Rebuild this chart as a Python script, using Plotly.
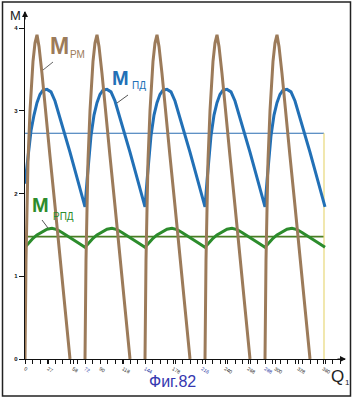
import plotly.graph_objects as go

# ---------------- data ----------------
PERIOD = 72.0          # degrees per cycle
N_PERIODS = 5

# M_PM (brown) - one cycle, x in degrees from cycle start
brown_x = [0, 1.2, 3.6, 6.0, 9.6, 12.0, 14.4, 16.8, 20.4, 24.0, 30.0, 36.0, 42.0, 48.0, 54.0]
brown_y = [0.0, 1.2, 2.4, 3.0, 3.6, 3.82, 3.92, 3.78, 3.45, 3.05, 2.45, 1.85, 1.22, 0.6, 0.0]

# M_ПД (blue) - one cycle
blue_x = [0, 2.4, 4.8, 7.2, 10.8, 14.4, 18.0, 21.6, 26.4, 31.2, 36.0, 42.0, 48.0, 54.0, 60.0, 66.0, 72.0]
blue_y = [1.84, 2.15, 2.45, 2.70, 2.95, 3.10, 3.20, 3.25, 3.26, 3.23, 3.12, 2.92, 2.72, 2.50, 2.28, 2.06, 1.84]
blue_first_y = [2.12, 2.36, 2.58, 2.76]   # start of the first cycle

# M_РПД (green) - one cycle
green_x = [0, 4.8, 9.6, 14.4, 20.4, 26.4, 32.4, 38.4, 44.4, 51.6, 58.8, 66.0, 72.0]
green_y = [1.35, 1.41, 1.46, 1.50, 1.54, 1.57, 1.58, 1.565, 1.53, 1.48, 1.43, 1.39, 1.35]

blue_level = 2.73
green_level = 1.48
x_end = 358.8

y_ticks = [0, 1, 2, 3, 4]
x_major = [0, 27.6, 57.6, 72, 90, 117.6, 144, 177.6, 212.4, 240, 267.6, 288, 300, 327.6, 357.6]
x_major_text = ["0", "27", "58", "72", "90", "118", "144", "178", "216", "240", "268", "288", "300", "328", "360"]
x_blue_labels = ["72", "144", "216", "288"]
x_minor_step = 9

# ---------------- build series ----------------
bx, by = [], []
for k in range(N_PERIODS):
    for x, y in zip(brown_x, brown_y):
        bx.append(k * PERIOD + x)
        by.append(y)
    bx.append(None)
    by.append(None)

ux, uy = [], []
for k in range(N_PERIODS):
    for i, (x, y) in enumerate(zip(blue_x, blue_y)):
        if k > 0 and i == 0:
            continue
        if k == 0 and i < len(blue_first_y):
            y = blue_first_y[i]
        ux.append(k * PERIOD + x)
        uy.append(y)

gx, gy = [], []
for k in range(N_PERIODS):
    for i, (x, y) in enumerate(zip(green_x, green_y)):
        if k > 0 and i == 0:
            continue
        gx.append(k * PERIOD + x)
        gy.append(y)

BROWN = "#9c7b5a"
BLUE = "#2270b6"
GREEN = "#2c8c2c"
FONT = "Liberation Sans"

fig = go.Figure()
fig.add_trace(go.Scatter(x=[0, x_end], y=[blue_level, blue_level], mode="lines",
                         line=dict(color="#2a6db2", width=1.2), hoverinfo="skip"))
fig.add_trace(go.Scatter(x=[0, x_end], y=[green_level, green_level], mode="lines",
                         line=dict(color="#4a7d24", width=1.6), hoverinfo="skip"))
fig.add_trace(go.Scatter(x=[x_end, x_end], y=[0, blue_level], mode="lines",
                         line=dict(color="#e8d87a", width=1.2), hoverinfo="skip"))
fig.add_trace(go.Scatter(x=gx, y=gy, mode="lines", line=dict(color=GREEN, width=3)))
fig.add_trace(go.Scatter(x=ux, y=uy, mode="lines", line=dict(color=BLUE, width=3)))
fig.add_trace(go.Scatter(x=bx, y=by, mode="lines", line=dict(color=BROWN, width=3),
                         connectgaps=False))

# ---------------- layout ----------------
L, R, T, B = 25, 9, 12, 40
W, H = 354, 399
PW, PH = W - L - R, H - T - B


def px(xp):
    return (xp - L) / PW


def py(yp):
    return (H - B - yp) / PH


tick_text = []
for t in x_major_text:
    if t in x_blue_labels:
        tick_text.append("<span style='color:#2030a0'>" + t + "</span>")
    else:
        tick_text.append(t)

minor_vals = []
v = 0
while v <= 380:
    minor_vals.append(v)
    v += x_minor_step

fig.update_layout(
    width=W, height=H, autosize=False,
    margin=dict(l=L, r=R, t=T, b=B, pad=0),
    paper_bgcolor="white", plot_bgcolor="white",
    showlegend=False,
    font=dict(family=FONT, color="#222"),
    xaxis=dict(range=[0, 384], showgrid=False, zeroline=False,
               showline=True, linecolor="#111", linewidth=1.2,
               ticks="outside", ticklen=4, tickcolor="#111", tickwidth=1,
               tickvals=x_major, ticktext=tick_text,
               tickfont=dict(size=5, family=FONT, color="#222"),
               minor=dict(tickvals=minor_vals, ticks="outside", ticklen=4,
                          tickcolor="#111", showgrid=False)),
    yaxis=dict(range=[0, PH / 82.7], showgrid=False, zeroline=False,
               showline=True, linecolor="#111", linewidth=1.2,
               ticks="outside", ticklen=5, tickcolor="#111",
               tickvals=y_ticks, ticktext=["<b>%d</b>" % t for t in y_ticks],
               tickfont=dict(size=6, family=FONT, color="#111")),
)

ann = []


def text(xp, yp, s, size, color, xanchor="center"):
    ann.append(dict(x=px(xp), y=py(yp), xref="paper", yref="paper", text=s,
                    showarrow=False, font=dict(size=size, color=color, family=FONT),
                    xanchor=xanchor, yanchor="middle"))


text(59, 46, "<b>M</b>", 23, BROWN)
text(77, 55, "РМ", 10, BROWN)
text(120, 78, "<b>M</b>", 20, BLUE)
text(139, 86, "ПД", 10, BLUE)
text(40, 205, "<b>M</b>", 20, GREEN)
text(63, 216, "РПД", 10, GREEN)
text(15, 16, "M", 13, "#222")
text(337, 376, "Q", 17, "#222")
text(347, 382, "1", 8, "#222")
text(172, 381, "Фиг.82", 16, "#3538b0")

# axis arrowheads
ann.append(dict(x=px(25), y=py(11), xref="paper", yref="paper", text="", showarrow=True,
                ax=0, ay=10, arrowhead=2, arrowsize=1, arrowwidth=1.2, arrowcolor="#111"))
ann.append(dict(x=px(346), y=py(359), xref="paper", yref="paper", text="", showarrow=True,
                ax=-10, ay=0, arrowhead=2, arrowsize=1, arrowwidth=1.2, arrowcolor="#111"))
fig.update_layout(annotations=ann)

shapes = []


def seg(x0, y0, x1, y1, color, width=1):
    shapes.append(dict(type="line", xref="paper", yref="paper",
                       x0=px(x0), y0=py(y0), x1=px(x1), y1=py(y1),
                       line=dict(color=color, width=width)))


seg(53, 62, 43, 70, "#666")
seg(128, 95, 117, 103, "#555")
seg(42, 220, 48, 228, "#555")
shapes.append(dict(type="rect", xref="paper", yref="paper",
                   x0=px(2.5), y0=py(2), x1=px(350.5), y1=py(396),
                   line=dict(color="#222", width=1.5), fillcolor="rgba(0,0,0,0)"))
fig.update_layout(shapes=shapes)

fig.write_html("out.html")
